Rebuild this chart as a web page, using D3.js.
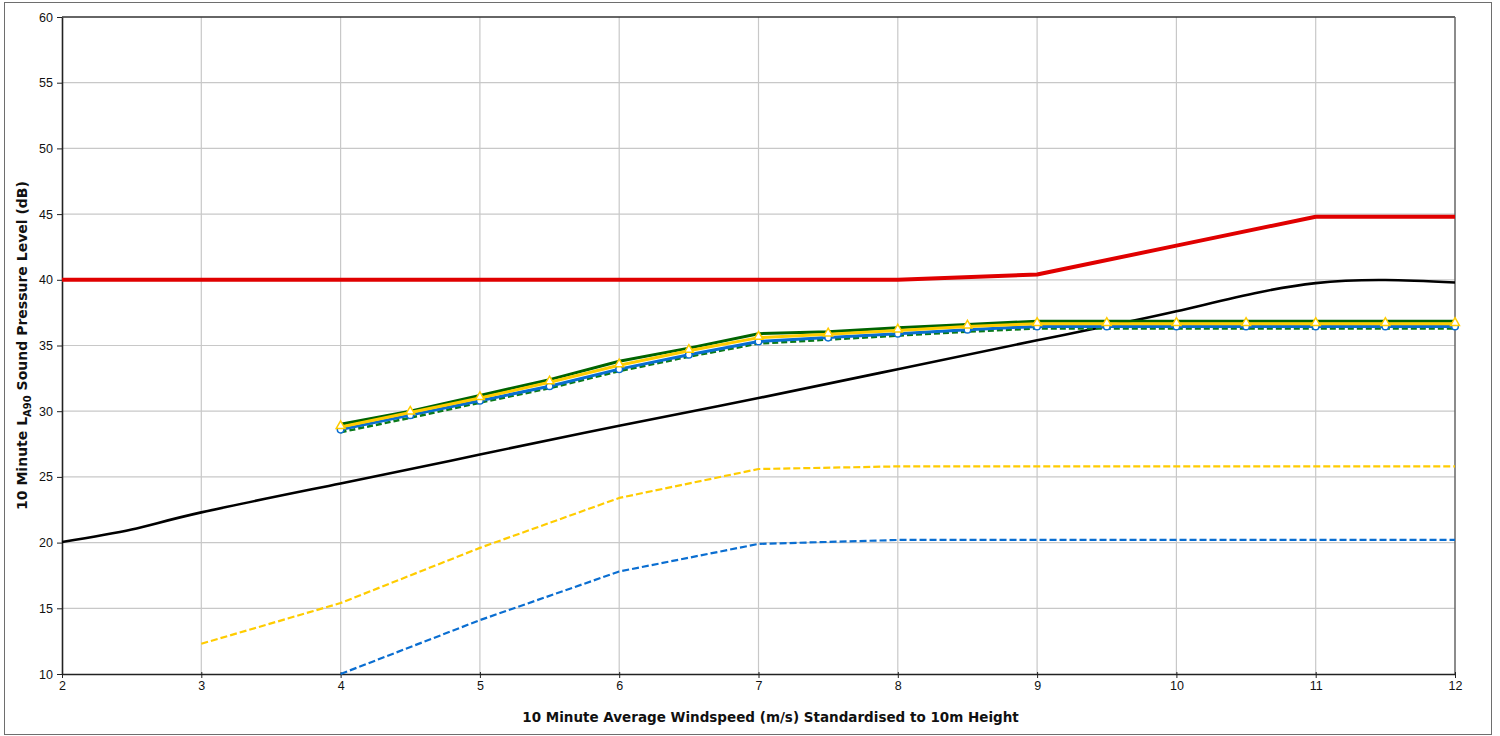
<!DOCTYPE html>
<html>
<head>
<meta charset="utf-8">
<script src="https://cdn.jsdelivr.net/npm/d3@7"></script>
<style>
  html, body { margin: 0; padding: 0; background: #fff; }
  svg { display: block; }
</style>
</head>
<body>
<svg id="chart" width="1500" height="736"></svg>
<script>
// Windspeed values (m/s, standardised to 10 m height)
const halfSteps = [4, 4.5, 5, 5.5, 6, 6.5, 7, 7.5, 8, 8.5, 9, 9.5, 10, 10.5, 11, 11.5, 12];

// Noise limit curve
const limitX = [2, 3, 4, 5, 6, 7, 8, 9, 10, 11, 12];
const limitY = [40, 40, 40, 40, 40, 40, 40, 40.4, 42.6, 44.8, 44.8];

// Background noise curve (smooth fit)
const bgX = [2, 2.5, 3, 4, 5, 6, 7, 8, 9, 10, 11, 12];
const bgY = [20.05, 21.0, 22.3, 24.5, 26.7, 28.9, 31.0, 33.2, 35.4, 37.6, 39.75, 39.8];

// Predicted levels
const greenSolid = [29.0, 30.0, 31.2, 32.4, 33.8, 34.8, 35.9, 36.05, 36.35, 36.6, 36.85, 36.85, 36.85, 36.85, 36.85, 36.85, 36.85];
const yellowSolid = [28.8, 29.9, 31.0, 32.2, 33.5, 34.6, 35.6, 35.85, 36.15, 36.45, 36.65, 36.65, 36.65, 36.65, 36.65, 36.65, 36.65];
const blueSolid = [28.6, 29.7, 30.8, 31.9, 33.2, 34.3, 35.3, 35.6, 35.9, 36.2, 36.45, 36.45, 36.45, 36.45, 36.45, 36.45, 36.45];
const greenDashed = [28.4, 29.5, 30.65, 31.75, 33.05, 34.15, 35.15, 35.45, 35.75, 36.05, 36.3, 36.3, 36.3, 36.3, 36.3, 36.3, 36.3];

const yellowDashX = [3, 4, 5, 6, 7, 8, 9, 10, 11, 12];
const yellowDashY = [12.3, 15.4, 19.6, 23.4, 25.6, 25.8, 25.8, 25.8, 25.8, 25.8];

const blueDashX = [4, 5, 6, 7, 8, 9, 10, 11, 12];
const blueDashY = [10.0, 14.1, 17.8, 19.9, 20.2, 20.2, 20.2, 20.2, 20.2];

const xTicks = [2, 3, 4, 5, 6, 7, 8, 9, 10, 11, 12];
const yTicks = [10, 15, 20, 25, 30, 35, 40, 45, 50, 55, 60];

const svg = d3.select("#chart");
const mLeft = 62, mRight = 1455, mTop = 17, mBottom = 674;

const x = d3.scaleLinear().domain([2, 12]).range([mLeft, mRight]);
const y = d3.scaleLinear().domain([10, 60]).range([mBottom, mTop]);

// outer chart frame
svg.append("rect")
  .attr("x", 4.5).attr("y", 2.5).attr("width", 1487).attr("height", 732)
  .attr("fill", "#fff").attr("stroke", "#6e6e6e").attr("stroke-width", 1);

// gridlines
const grid = svg.append("g");
grid.selectAll("line.v").data(xTicks.slice(1, -1)).join("line")
  .attr("x1", d => x(d)).attr("x2", d => x(d))
  .attr("y1", mTop).attr("y2", mBottom)
  .attr("stroke", "#c8c8c8").attr("stroke-width", 1.2);
grid.selectAll("line.h").data(yTicks.slice(1, -1)).join("line")
  .attr("x1", mLeft).attr("x2", mRight)
  .attr("y1", d => y(d)).attr("y2", d => y(d))
  .attr("stroke", "#c8c8c8").attr("stroke-width", 1.2);

// plot border (top and right)
svg.append("line").attr("x1", mLeft).attr("x2", mRight).attr("y1", mTop).attr("y2", mTop)
  .attr("stroke", "#333").attr("stroke-width", 1.3);
svg.append("line").attr("x1", mRight).attr("x2", mRight).attr("y1", mTop).attr("y2", mBottom)
  .attr("stroke", "#666").attr("stroke-width", 1.5);

// axes
const xAxis = svg.append("g").attr("transform", `translate(0,${mBottom})`)
  .call(d3.axisBottom(x).tickValues(xTicks).tickSize(4).tickSizeOuter(0).tickFormat(d3.format("d")));
const yAxis = svg.append("g").attr("transform", `translate(${mLeft},0)`)
  .call(d3.axisLeft(y).tickValues(yTicks).tickSize(5).tickSizeOuter(0).tickFormat(d3.format("d")));
[xAxis, yAxis].forEach(a => {
  a.select(".domain").attr("stroke", "#222").attr("stroke-width", 1.6);
  a.selectAll(".tick line").attr("stroke", "#222");
  a.selectAll("text").attr("font-family", "Liberation Sans, Arial, sans-serif")
    .attr("font-size", 12.5).attr("fill", "#111");
});
xAxis.selectAll(".tick line").attr("y1", -2);
xAxis.selectAll("text").attr("dy", "0.71em").attr("y", 7);
yAxis.selectAll("text").attr("x", -9);

// axis titles
svg.append("text")
  .attr("x", (mLeft + mRight) / 2 + 12).attr("y", 722)
  .attr("text-anchor", "middle")
  .attr("font-family", "DejaVu Sans, Verdana, sans-serif")
  .attr("font-weight", "bold").attr("font-size", 13.5).attr("fill", "#111")
  .text("10 Minute Average Windspeed (m/s) Standardised to 10m Height");

const yt = svg.append("text")
  .attr("transform", `translate(27,${(mTop + mBottom) / 2}) rotate(-90)`)
  .attr("text-anchor", "middle")
  .attr("font-family", "DejaVu Sans, Verdana, sans-serif")
  .attr("font-weight", "bold").attr("font-size", 14).attr("fill", "#111");
yt.append("tspan").text("10 Minute L");
yt.append("tspan").attr("font-size", 10).attr("dy", 4).text("A90");
yt.append("tspan").attr("dy", -4).text(" Sound Pressure Level (dB)");

// series
const plot = svg.append("g");
function draw(xs, ys, color, width, dash, curve) {
  const line = d3.line().x(d => x(d[0])).y(d => y(d[1])).curve(curve || d3.curveLinear);
  plot.append("path")
    .datum(xs.map((v, i) => [v, ys[i]]))
    .attr("d", line)
    .attr("fill", "none").attr("stroke", color).attr("stroke-width", width)
    .attr("stroke-linejoin", "round")
    .attr("stroke-dasharray", dash || null);
}

draw(blueDashX, blueDashY, "#0a6ed1", 2.2, "7,3");
draw(yellowDashX, yellowDashY, "#ffcc00", 2.2, "7,3");
draw(bgX, bgY, "#000", 2.6, null, d3.curveNatural);
draw(limitX, limitY, "#e00000", 4);
draw(halfSteps, greenSolid, "#006400", 3);
draw(halfSteps, greenDashed, "#0a7a1a", 2.5, "6,3");
draw(halfSteps, blueSolid, "#0a6ed1", 3);
draw(halfSteps, yellowSolid, "#ffcc00", 3);

// markers
plot.selectAll("circle.m").data(halfSteps).join("circle")
  .attr("cx", d => x(d)).attr("cy", (d, i) => y(blueSolid[i]))
  .attr("r", 3.3).attr("fill", "#fff").attr("stroke", "#0a6ed1").attr("stroke-width", 1.5);
const tri = d3.symbol().type(d3.symbolTriangle).size(34);
plot.selectAll("path.t").data(halfSteps).join("path")
  .attr("transform", (d, i) => `translate(${x(d)},${y(yellowSolid[i]) - 1})`)
  .attr("d", tri)
  .attr("fill", "#fff").attr("stroke", "#ffcc00").attr("stroke-width", 1.5);
</script>
</body>
</html>
